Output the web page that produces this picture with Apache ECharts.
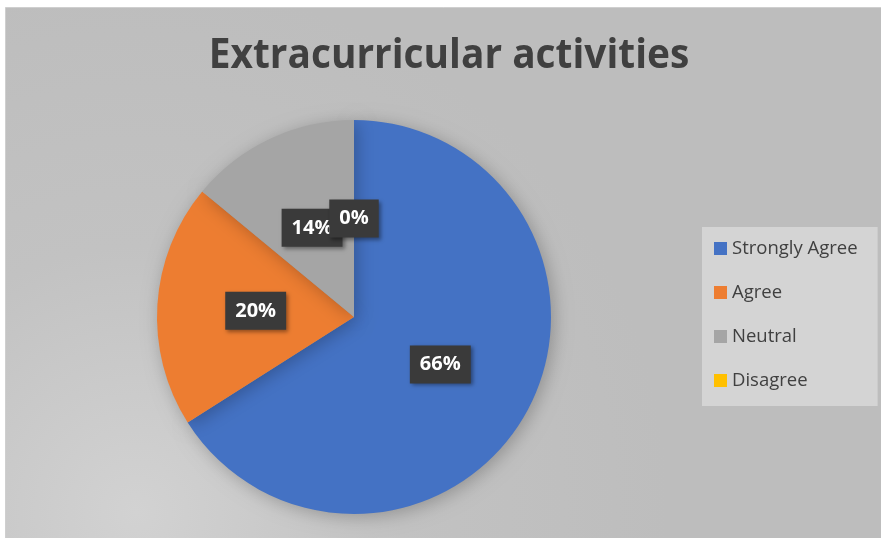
<!DOCTYPE html>
<html><head><meta charset="utf-8">
<script src="https://cdn.jsdelivr.net/npm/echarts@6/dist/echarts.min.js"></script>
<style>html,body{margin:0;padding:0;background:#fff;}#c{width:881px;height:538px;}</style>
</head><body><div id="c"></div>
<script>
const categories = ['Strongly Agree', 'Agree', 'Neutral', 'Disagree'];
const values = [66, 20, 14, 0];
const colors = ['#4472C4', '#ED7D31', '#A5A5A5', '#FFC000'];
const titleText = 'Extracurricular activities';

const total = values.reduce((a, b) => a + b, 0);
// label anchor points: mid-angle of each slice (in value units), half radius
let acc = 0;
const labelPoints = values.map((v, i) => {
  const mid = acc + v / 2; acc += v;
  return { value: [0.5, mid], pct: Math.round(v / total * 100) };
});

const labelStyle = {
  show: true, position: 'inside', formatter: p => p.data.pct + '%',
  color: '#ffffff', fontWeight: 'bold', fontSize: 20, fontFamily: '"Open Sans", sans-serif',
  backgroundColor: '#3a3a3a', padding: [10, 10, 8, 10],
  shadowBlur: 4, shadowColor: 'rgba(0,0,0,0.4)', shadowOffsetX: 2, shadowOffsetY: 2
};

const chart = echarts.init(document.getElementById('c'));
chart.setOption({
  animation: false,
  backgroundColor: '#ffffff',
  graphic: [{
    type: 'rect', left: 5, top: 7, z: -10,
    shape: { width: 876, height: 531 },
    style: {
      fill: { type: 'radial', x: 0.15, y: 0.95, r: 1.0,
        colorStops: [{ offset: 0, color: '#d2d2d2' }, { offset: 0.5, color: '#c2c2c2' }, { offset: 1, color: '#bdbdbd' }] },
      stroke: '#cfcfcf', lineWidth: 1
    }
  }, {
    type: 'text', x: 449, y: 77, scaleX: 0.925, z: 10,
    style: {
      text: titleText, x: 0, y: 0, textAlign: 'center', textVerticalAlign: 'bottom',
      fontFamily: '"Open Sans", sans-serif', fontWeight: 'bold', fontSize: 42, fill: '#404040'
    }
  }],
  polar: { center: [354, 317], radius: 197 },
  angleAxis: { type: 'value', min: 0, max: total, startAngle: 90, clockwise: true, show: false },
  radiusAxis: { type: 'value', min: 0, max: 1, show: false },
  legend: {
    orient: 'vertical', left: 702, top: 227,
    data: categories,
    backgroundColor: '#d4d4d4', padding: [12, 20, 16, 12],
    itemWidth: 13, itemHeight: 13, itemGap: 25, icon: 'rect',
    textStyle: { fontFamily: '"Open Sans", sans-serif', fontSize: 18.5, color: '#404040' }
  },
  series: [{
    type: 'pie', center: [354, 317], radius: 197, startAngle: 90, clockwise: true,
    data: categories.map((c, i) => ({ name: c, value: values[i], itemStyle: { color: colors[i] } })),
    itemStyle: { shadowBlur: 18, shadowColor: 'rgba(0,0,0,0.25)', shadowOffsetX: 3, shadowOffsetY: 3 },
    label: { show: false },
    labelLine: { show: false },
    emphasis: { disabled: true }
  }, {
    type: 'scatter', coordinateSystem: 'polar', z: 5, silent: true,
    symbolSize: 2, itemStyle: { color: 'rgba(0,0,0,0)', opacity: 1 },
    data: labelPoints,
    label: labelStyle,
    emphasis: { disabled: true }
  }]
});
</script></body></html>
